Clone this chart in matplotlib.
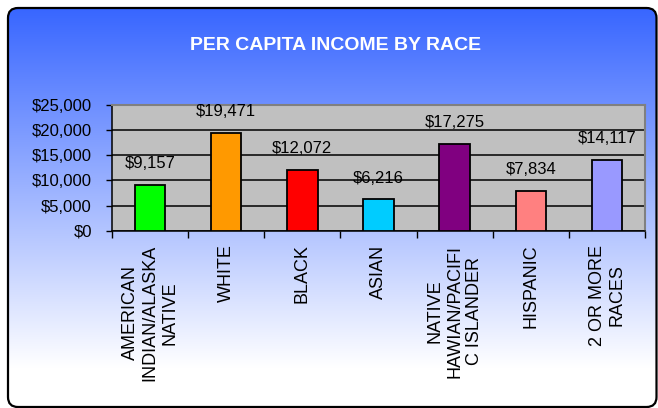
import numpy as np
import matplotlib
matplotlib.use("Agg")
import matplotlib.pyplot as plt
from matplotlib.patches import FancyBboxPatch

races = ["AMERICAN\nINDIAN/ALASKA\nNATIVE", "WHITE", "BLACK", "ASIAN",
         "NATIVE\nHAWIAN/PACIFI\nC ISLANDER", "HISPANIC", "2 OR MORE\nRACES"]
income = [9157, 19471, 12072, 6216, 17275, 7834, 14117]
bar_colors = ["#00FF00", "#FF9900", "#FF0000", "#00CCFF", "#800080", "#FF8080", "#9999FF"]
yticks = [0, 5000, 10000, 15000, 20000, 25000]

plt.rcParams['font.family'] = ['Liberation Sans', 'DejaVu Sans']

W, H = 658, 408
fig = plt.figure(figsize=(W / 100, H / 100), dpi=100)
fig.patch.set_facecolor("white")

# background panel with rounded corners and blue-to-white gradient
bg = fig.add_axes([0, 0, 1, 1])
bg.set_xlim(0, W)
bg.set_ylim(H, 0)
bg.axis("off")
top = np.array([0.22, 0.40, 1.0])
bottom = np.array([1.0, 1.0, 1.0])
t = np.clip((np.linspace(0, H, 300) - 8) / 360, 0, 1)[:, None]
grad = top * (1 - t) + bottom * t
img = bg.imshow(grad[:, None, :], extent=(0, W, H, 0), aspect="auto", zorder=0)
panel = FancyBboxPatch((8, 8), W - 9.5, H - 9, boxstyle="round,pad=0,rounding_size=10",
                       facecolor="none", edgecolor="black", lw=1.6, zorder=2)
bg.add_patch(panel)
img.set_clip_path(panel)

fig.text(336 / W, 1 - 46 / H, "PER CAPITA INCOME BY RACE", color="white",
         fontsize=14, fontweight="bold", ha="center", va="center")

ax = fig.add_axes([112 / W, 1 - 230.7 / H, (645 - 112) / W, (230.7 - 105) / H])
ax.set_facecolor("#C0C0C0")
x = np.arange(len(races)) + 0.5
ax.bar(x, income, width=0.4, color=bar_colors, edgecolor="black", linewidth=1.3, zorder=3)
for xi, v in zip(x, income):
    ax.annotate(f"${v:,}", (xi, v), xytext=(0, 10), textcoords="offset points",
                ha="center", va="bottom", fontsize=12, color="black")

ax.set_xlim(0, len(races))
ax.set_ylim(0, 25000)
ax.set_yticks(yticks)
ax.set_yticklabels([f"${v:,}" for v in yticks], fontsize=12)
ax.yaxis.grid(True, color="black", linewidth=1.1, zorder=1)
ax.set_axisbelow(True)
ax.tick_params(axis="y", length=4, width=1, pad=10.5, direction="out")

ax.set_xticks(x)
ax.set_xticklabels(races, rotation=90, fontsize=13, ha="center", va="top",
                   multialignment="center", linespacing=1.2)
ax.tick_params(axis="x", length=0, pad=10)
ax.set_xticks(np.arange(len(races) + 1), minor=True)
ax.tick_params(axis="x", which="minor", length=5, width=1, direction="out")

for side in ["left", "bottom"]:
    ax.spines[side].set_color("black")
    ax.spines[side].set_linewidth(1.1)
for side in ["top", "right"]:
    ax.spines[side].set_color("#808080")
    ax.spines[side].set_linewidth(1.5)

fig.savefig("out.png", dpi=100)
